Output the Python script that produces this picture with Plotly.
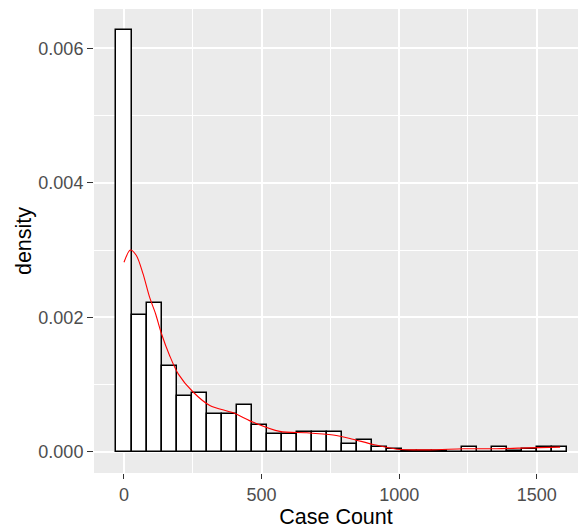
import plotly.graph_objects as go

# Histogram (30 bins, ggplot-style, centred on 0)
bin_width = 54.62
densities = [0.00627, 0.00203, 0.00222, 0.00128, 0.00083, 0.00088, 0.00057, 0.00057,
             0.00070, 0.00040, 0.00026, 0.00026, 0.00029, 0.00029, 0.00029, 0.00011,
             0.00017, 0.00007, 0.00004, 0.00002, 0.00002, 0.00002, 0.0, 0.00008,
             0.0, 0.00008, 0.00002, 0.00004, 0.00008, 0.00008]
bin_centers = [i * bin_width for i in range(len(densities))]

# Kernel density curve
kde_x = [0, 23, 45, 69, 93, 115, 136, 166, 197, 251, 312, 397, 470, 566, 663, 760,
         821, 906, 991, 1112, 1233, 1354, 1475, 1585]
kde_y = [0.00282, 0.00300, 0.00292, 0.00265, 0.00230, 0.00205, 0.00176, 0.00143,
         0.00116, 0.00089, 0.00069, 0.00058, 0.00044, 0.000305, 0.000285, 0.00025,
         0.00020, 0.00011, 0.00004, 0.00003, 0.000047, 0.000047, 0.00006, 0.00007]

x_ticks = [0, 500, 1000, 1500]
y_ticks = [0.000, 0.002, 0.004, 0.006]

fig = go.Figure()
fig.add_trace(go.Bar(
    x=bin_centers, y=densities, width=bin_width,
    marker=dict(color="white", line=dict(color="black", width=1.5)),
    showlegend=False, hoverinfo="skip"))
fig.add_trace(go.Scatter(
    x=kde_x, y=kde_y, mode="lines", line=dict(color="red", width=1.1, shape="spline", smoothing=0.8),
    showlegend=False, hoverinfo="skip"))

font = "Liberation Sans, Arial, sans-serif"
fig.update_layout(
    width=578, height=529,
    margin=dict(l=94, r=0, t=9, b=56),
    paper_bgcolor="white", plot_bgcolor="#EBEBEB",
    bargap=0,
    font=dict(family=font, color="#4D4D4D", size=18),
)
fig.update_xaxes(
    range=[-109, 1650], tickvals=x_ticks, ticktext=[str(v) for v in x_ticks],
    showgrid=True, gridcolor="white", gridwidth=1.6,
    minor=dict(showgrid=True, gridcolor="white", gridwidth=0.8, tickvals=[250, 750, 1250]),
    zeroline=False, showline=False,
    ticks="outside", ticklen=5, tickwidth=1.3, tickcolor="#333333",
    tickfont=dict(size=18, color="#4D4D4D"),
    title=dict(text="Case Count", font=dict(size=21.5, color="black"), standoff=3),
    automargin=False,
)
fig.update_yaxes(
    range=[-0.000314, 0.006584], tickvals=y_ticks, ticktext=[f"{v:.3f}" for v in y_ticks],
    showgrid=True, gridcolor="white", gridwidth=1.6,
    minor=dict(showgrid=True, gridcolor="white", gridwidth=0.8, tickvals=[0.001, 0.003, 0.005]),
    zeroline=False, showline=False,
    ticks="outside", ticklen=6, tickwidth=1.3, tickcolor="#333333",
    tickfont=dict(size=18, color="#4D4D4D"),
    title=dict(text="density", font=dict(size=21.5, color="black"), standoff=0),
    automargin=False,
)

fig.write_html("out.html")
